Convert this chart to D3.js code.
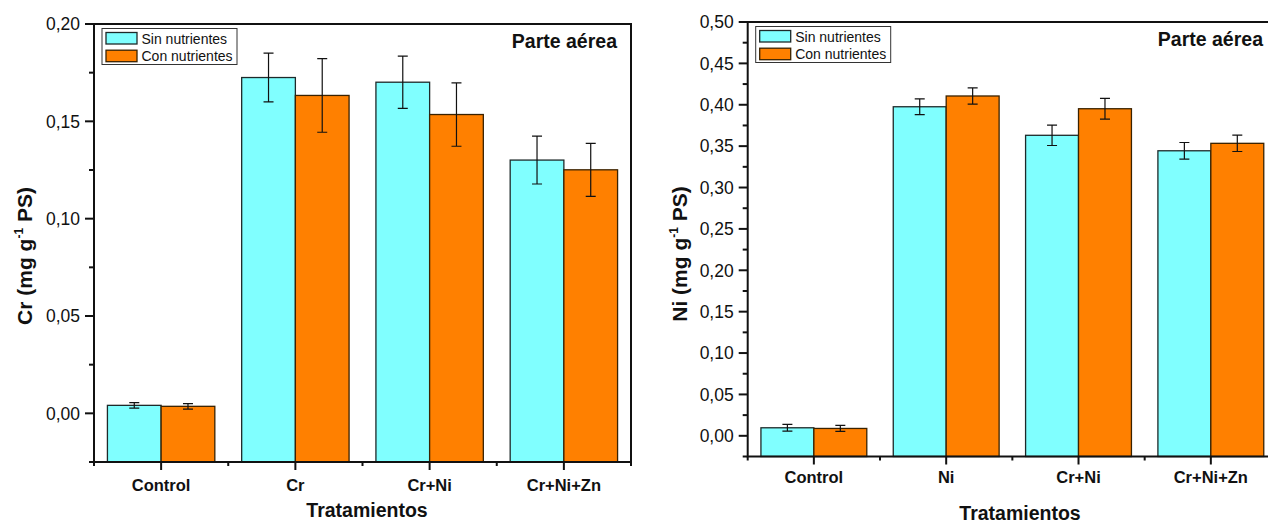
<!DOCTYPE html>
<html>
<head>
<meta charset="utf-8">
<script src="https://cdn.jsdelivr.net/npm/d3@7"></script>
<style>
  html, body { margin: 0; padding: 0; background: #fff; }
  svg { display: block; font-family: Arial, "Liberation Sans", sans-serif; }
</style>
</head>
<body>
<svg id="chart" width="1268" height="524"></svg>
<script>
// Cr content in shoots (mg g-1 dry weight)
const crCategories = ["Control", "Cr", "Cr+Ni", "Cr+Ni+Zn"];
const crSin = [0.0041, 0.1725, 0.1701, 0.1301];
const crSinErr = [0.0014, 0.0125, 0.0134, 0.0123];
const crCon = [0.0036, 0.1633, 0.1535, 0.1251];
const crConErr = [0.0014, 0.0189, 0.0163, 0.0136];
const crTicks = [0, 0.05, 0.10, 0.15, 0.20];

// Ni content in shoots (mg g-1 dry weight)
const niCategories = ["Control", "Ni", "Cr+Ni", "Cr+Ni+Zn"];
const niSin = [0.0097, 0.3976, 0.3631, 0.3444];
const niSinErr = [0.0040, 0.0095, 0.0123, 0.0100];
const niCon = [0.0089, 0.4106, 0.3952, 0.3534];
const niConErr = [0.0036, 0.0099, 0.0125, 0.0099];
const niTicks = [0, 0.05, 0.10, 0.15, 0.20, 0.25, 0.30, 0.35, 0.40, 0.45, 0.50];

const seriesNames = ["Sin nutrientes", "Con nutrientes"];
const seriesFill = ["#80FFFF", "#FF8000"];
const seriesStroke = ["#1e2a2a", "#3a2200"];

const esLocale = d3.formatLocale({ decimal: ",", thousands: ".", grouping: [3], currency: ["", "€"] });
const fmt = esLocale.format(".2f");

const svg = d3.select("#chart");

function drawPanel(cfg) {
  const { left, right, top, bottom, yMin, yMax, categories, values, errors, ticks, minorStep, element, titleX, titleY, xTitleX, xTitleY, catLabelDy } = cfg;
  const g = svg.append("g");

  const x0 = d3.scaleBand().domain(categories).range([left, right]).padding(0);
  const x1 = d3.scaleBand().domain(seriesNames).range([0, x0.bandwidth()]).paddingInner(0).paddingOuter(0.25);
  const y = d3.scaleLinear().domain([yMin, yMax]).range([bottom, top]);

  // bars
  seriesNames.forEach((s, si) => {
    g.append("g").selectAll("rect")
      .data(categories.map((c, i) => ({ c, v: values[si][i], e: errors[si][i] })))
      .join("rect")
      .attr("x", d => x0(d.c) + x1(s))
      .attr("y", d => y(d.v))
      .attr("width", x1.bandwidth())
      .attr("height", d => y(yMin) - y(d.v))
      .attr("fill", seriesFill[si])
      .attr("stroke", seriesStroke[si])
      .attr("stroke-width", 1.3);
  });

  // error bars
  const cap = 5;
  seriesNames.forEach((s, si) => {
    const eg = g.append("g").attr("stroke", "#111").attr("stroke-width", 1.2).attr("fill", "none");
    categories.forEach((c, i) => {
      const cx = x0(c) + x1(s) + x1.bandwidth() / 2;
      const v = values[si][i], e = errors[si][i];
      const y1 = y(v + e), y2 = y(v - e);
      eg.append("path").attr("d", `M${cx},${y1}V${y2}M${cx - cap},${y1}H${cx + cap}M${cx - cap},${y2}H${cx + cap}`);
    });
  });

  // frame
  g.append("rect")
    .attr("x", left).attr("y", top)
    .attr("width", right - left).attr("height", bottom - top)
    .attr("fill", "none").attr("stroke", "#111").attr("stroke-width", 2);

  // y axis ticks
  const yAxis = g.append("g").attr("stroke", "#111").attr("stroke-width", 2);
  ticks.forEach(t => {
    yAxis.append("line").attr("x1", left - 9).attr("x2", left).attr("y1", y(t)).attr("y2", y(t));
  });
  for (let t = yMin; t < yMax - 1e-9; t += minorStep * 2) {
    const m = t;
    if (!ticks.some(tk => Math.abs(tk - m) < 1e-9)) {
      yAxis.append("line").attr("x1", left - 5).attr("x2", left).attr("y1", y(m)).attr("y2", y(m));
    }
  }
  g.append("g").selectAll("text").data(ticks).join("text")
    .attr("x", left - 14).attr("y", d => y(d)).attr("dy", "0.36em")
    .attr("text-anchor", "end").attr("font-size", 17.5).attr("fill", "#111")
    .text(d => fmt(d));

  // x axis ticks
  const xAxis = g.append("g").attr("stroke", "#111").attr("stroke-width", 2);
  categories.forEach(c => {
    const cx = x0(c) + x0.bandwidth() / 2;
    xAxis.append("line").attr("x1", cx).attr("x2", cx).attr("y1", bottom).attr("y2", bottom + 8);
    xAxis.append("line").attr("x1", x0(c)).attr("x2", x0(c)).attr("y1", bottom).attr("y2", bottom + 4);
  });
  xAxis.append("line").attr("x1", right).attr("x2", right).attr("y1", bottom).attr("y2", bottom + 4);

  g.append("g").selectAll("text").data(categories).join("text")
    .attr("x", d => x0(d) + x0.bandwidth() / 2).attr("y", bottom + catLabelDy)
    .attr("text-anchor", "middle").attr("font-size", 16.5).attr("font-weight", "bold").attr("fill", "#111")
    .text(d => d);

  // axis titles
  g.append("text")
    .attr("x", xTitleX).attr("y", xTitleY)
    .attr("text-anchor", "middle").attr("font-size", 19.5).attr("font-weight", "bold").attr("fill", "#111")
    .text("Tratamientos");

  const yt = g.append("text")
    .attr("transform", `translate(${titleX},${titleY}) rotate(-90)`)
    .attr("text-anchor", "middle").attr("font-size", 21).attr("font-weight", "bold").attr("fill", "#111");
  yt.append("tspan").text(element + " (mg g");
  yt.append("tspan").attr("font-size", 12).attr("dy", -9).text("-1");
  yt.append("tspan").attr("dy", 9).text(" PS)");

  // panel label
  g.append("text")
    .attr("x", right - 14).attr("y", top + 24)
    .attr("text-anchor", "end").attr("font-size", 19.5).attr("font-weight", "bold").attr("fill", "#111")
    .text("Parte aérea");

  // legend
  const lx = left + 8, ly = top + 4.5;
  const lg = g.append("g");
  lg.append("rect").attr("x", lx).attr("y", ly).attr("width", 135).attr("height", 36)
    .attr("fill", "#fff").attr("stroke", "#333").attr("stroke-width", 1);
  seriesNames.forEach((s, si) => {
    lg.append("rect").attr("x", lx + 4).attr("y", ly + 4 + si * 17.7).attr("width", 31).attr("height", 11.5)
      .attr("fill", seriesFill[si]).attr("stroke", seriesStroke[si]).attr("stroke-width", 1.3);
    lg.append("text").attr("x", lx + 39.5).attr("y", ly + 15 + si * 17.7)
      .attr("font-size", 14).attr("fill", "#111").text(s);
  });
}

svg.append("rect").attr("width", 1268).attr("height", 524).attr("fill", "#fff");

drawPanel({
  left: 94, right: 631, top: 24, bottom: 462,
  yMin: -0.025, yMax: 0.20,
  categories: crCategories,
  values: [crSin, crCon], errors: [crSinErr, crConErr],
  ticks: crTicks, minorStep: 0.0125,
  element: "Cr",
  titleX: 31.5, titleY: 256,
  xTitleX: 367, xTitleY: 517,
  catLabelDy: 28.5
});

drawPanel({
  left: 747.7, right: 1277, top: 22, bottom: 456.5,
  yMin: -0.025, yMax: 0.50,
  categories: niCategories,
  values: [niSin, niCon], errors: [niSinErr, niConErr],
  ticks: niTicks, minorStep: 0.0125,
  element: "Ni",
  titleX: 687, titleY: 254,
  xTitleX: 1020, xTitleY: 520,
  catLabelDy: 26
});
</script>
</body>
</html>
